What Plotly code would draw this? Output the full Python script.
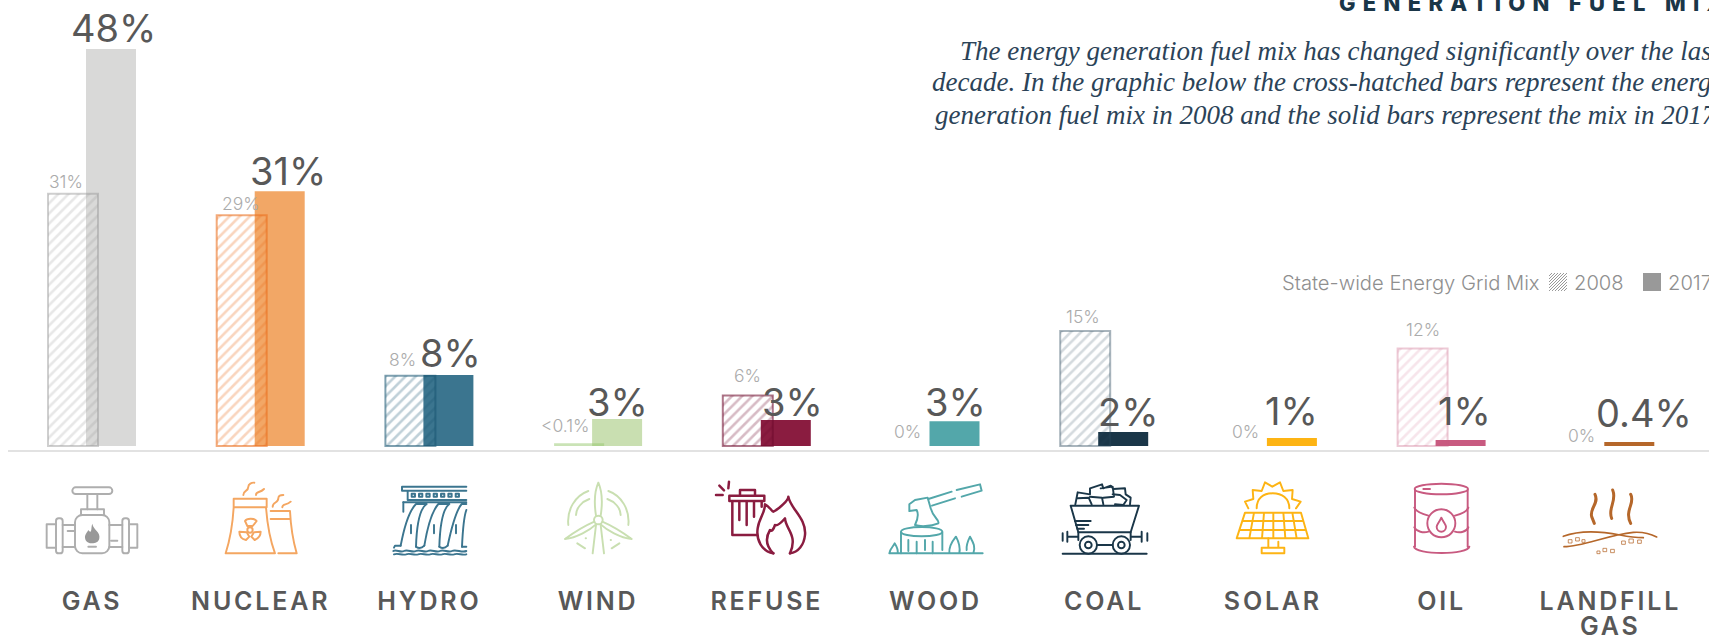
import base64
import plotly.graph_objects as go

categories = ["GAS", "NUCLEAR", "HYDRO", "WIND", "REFUSE", "WOOD", "COAL", "SOLAR", "OIL", "LANDFILL GAS"]
values_2008 = [30.5, 27.9, 8.5, 0.33, 6.1, 0, 13.9, 0, 11.8, 0]
values_2017 = [48.0, 30.8, 8.6, 3.26, 3.14, 3.0, 1.7, 0.97, 0.73, 0.48]
labels_2008 = ["31%", "29%", "8%", "&lt;0.1%", "6%", "0%", "15%", "0%", "12%", "0%"]
labels_2017 = ["48%", "31%", "8%", "3%", "3%", "3%", "2%", "1%", "1%", "0.4%"]
colors_2017 = ["#d9d9d8", "#f2a766", "#3b758f", "#c9dfb1", "#8a1c40", "#53a7aa", "#1a3648", "#fdb414", "#c85a80", "#b5672a"]
colors_2008 = ["rgba(150,150,150,.46)", "rgba(235,110,30,.58)", "rgba(25,85,115,.56)", "rgba(150,200,110,.5)",
               "rgba(110,10,45,.56)", "rgba(0,0,0,0)", "rgba(40,70,90,.4)", "rgba(0,0,0,0)",
               "rgba(200,90,128,.32)", "rgba(0,0,0,0)"]
paragraph_lines = ["The energy generation fuel mix has changed significantly over the last",
                   "decade. In the graphic below the cross-hatched bars represent the energy",
                   "generation fuel mix in 2008 and the solid bars represent the mix in 2017."]
title_text = "GENERATION FUEL MIX"
legend_title = "State-wide Energy Grid Mix"
legend_years = ["2008", "2017"]

# layout constants (pixels)
W, H = 1709, 637
AX_Y = 450
BASE_Y = 446
PX_PER_PCT = 8.27
X0 = 92.0
STEP = 168.7
AX_L = 8
BAR_W = 50 / STEP
# label nudges in pixels, relative to the category centre and the top of the bar
dx_2008 = [-26, -20, -27, -33, -19, -28, -21, -27, -19, -29]
dy_2008 = [12, 12, 16, 18, 20, 15, 15, 15, 19, 11]
dx_2017 = [21, 27, 21, 19, 26, 20, 24, 19, 23, 34]
dy_2017 = [21, 20, 22, 17, 18, 19, 20, 27, 29, 29]

SANS = "Inter"
SERIF = "Liberation Serif"

def py(y):
    return (AX_Y - y) / AX_Y

fig = go.Figure()
fig.add_bar(x=categories, y=values_2017, width=BAR_W, offset=-6 / STEP, marker=dict(color=colors_2017, line_width=0),
            showlegend=False, hoverinfo="skip")
fig.add_bar(x=categories, y=values_2008, width=BAR_W, offset=-44 / STEP,
            marker=dict(color="rgba(0,0,0,0)",
                        line=dict(color=colors_2008, width=[0 if v < 1 else 2 for v in values_2008]),
                        pattern=dict(shape=["/" if v >= 1 else "" for v in values_2008], fgcolor=colors_2008,
                                     bgcolor="rgba(0,0,0,0)", size=7.2, solidity=0.36)),
            showlegend=False, hoverinfo="skip")
# wind 2008 is only a sliver: drawn solid
fig.add_bar(x=[categories[3]], y=[values_2008[3]], width=BAR_W, offset=-44 / STEP,
            marker=dict(color=colors_2008[3], line_width=0), showlegend=False, hoverinfo="skip")

ann = []
for c, v, t, dx, dy in zip(categories, values_2008, labels_2008, dx_2008, dy_2008):
    ann.append(dict(x=c, y=v, xref="x", yref="y", text=t, showarrow=False, xshift=dx, yshift=dy, xanchor="center", yanchor="middle",
                    font=dict(family=SANS, size=17.5, color="#ababab", weight=300)))
for c, v, t, dx, dy in zip(categories, values_2017, labels_2017, dx_2017, dy_2017):
    ann.append(dict(x=c, y=v, xref="x", yref="y", text=t, showarrow=False, xshift=dx, yshift=dy, xanchor="center", yanchor="middle",
                    font=dict(family=SANS, size=38, color="#585858", weight=400)))
for line, xs, ys in zip(paragraph_lines, [958, 930, 933], [51, 82, 115]):
    ann.append(dict(x=xs / W, y=py(ys), xref="paper", yref="paper", text=line, showarrow=False, xanchor="left", yanchor="middle",
                    font=dict(family=SERIF, size=27, color="#2b4358", style="italic")))
ann.append(dict(x=1337 / W, y=py(3), xref="paper", yref="paper", showarrow=False, xanchor="left", yanchor="middle",
                text=f'<span style="letter-spacing:7.3px">{title_text}</span>',
                font=dict(family=SANS, size=22, color="#1a3648", weight=800)))
# second line of the last category label
ann.append(dict(x=categories[-1], y=py(626), xref="x", yref="paper", showarrow=False, xanchor="center", yanchor="middle",
                text='<span style="letter-spacing:2.8px">GAS</span>',
                font=dict(family=SANS, size=25, color="#585858", weight=600)))
# legend
LEG_FONT = dict(family=SANS, size=20.2, color="#8f8f8f", weight=300)
for t, xs in zip([legend_title] + legend_years, [1280, 1572, 1666]):
    ann.append(dict(x=xs / W, y=py(282), xref="paper", yref="paper", text=t, showarrow=False, xanchor="left", yanchor="middle", font=LEG_FONT))
fig.update_layout(annotations=ann)

G, N, HY, WI, RE, WO, CO, SO, OI, LA = colors_2017
def uri(s):
    return "data:image/svg+xml;base64," + base64.b64encode(s.encode()).decode()
def svg(body, color, vx, sw=5.8):
    return uri(f'<svg xmlns="http://www.w3.org/2000/svg" viewBox="{vx} 0 390 270" width="390" height="270">'
               f'<g fill="none" stroke="{color}" stroke-width="{sw}" stroke-linecap="round" stroke-linejoin="round">{body}</g></svg>')

gas = """<rect x="127" y="37" width="120" height="20" rx="10"/><path d="M172 57V103M202 57V103"/><path d="M153 120V103H222V120"/>
<rect x="135" y="120" width="103" height="115" rx="22"/><rect x="78" y="130" width="20" height="105" rx="8"/><rect x="277" y="130" width="20" height="105" rx="8"/>
<path d="M78 148H50V218H78M297 148H322V218H297M98 150H135M98 216H135M238 150H277M238 216H277M113 168H132M243 197H262M175 215H198"/>
<path d="M187 146C190 165 212 170 208 190C206 203 195 205 187 205C178 205 166 202 165 188C164 178 172 172 175 165C178 170 182 172 183 168C185 162 184 152 187 146Z" fill="#999" stroke="none"/>"""
nuclear = """<path d="M611 71H710V97H611ZM611 97C608 150 598 200 587 235H735C722 200 712 150 708 97M722 108H780C782 150 790 200 800 235H745M722 132H780"/>
<path d="M640 60C640 45 655 50 655 35C655 28 665 22 673 23M678 60C678 48 690 55 702 42M728 95C728 80 745 85 745 70C745 63 752 60 760 60M757 97C757 85 770 92 782 80"/>
<circle cx="660" cy="165" r="8"/><path d="M645 138C650 130 672 128 680 138L668 153H652ZM628 170L650 172L658 185L648 195C635 192 628 182 628 170ZM692 170L672 172L664 185L674 195C685 190 692 182 692 170Z"/>"""
hydro = """<path d="M1309 35H1116V47H1309M1133 47V75H1309M1120 82H1309"/>
<path d="M1145 56h10v9h-10zM1167 56h10v9h-10zM1189 56h10v9h-10zM1211 56h10v9h-10zM1233 56h10v9h-10zM1255 56h10v9h-10zM1277 56h10v9h-10z"/>
<path d="M1120 82V110M1190 87H1158C1135 110 1120 170 1112 212M1190 87C1170 100 1160 150 1158 215M1258 87H1225C1205 110 1190 170 1183 212M1258 87C1240 100 1230 150 1228 215M1309 87H1295C1275 110 1262 170 1253 212M1309 105C1300 130 1298 170 1296 215"/>
<path d="M1112 212L1095 212L1092 218M1158 215C1165 220 1175 220 1183 212M1228 215C1235 220 1245 220 1253 212M1296 215H1309M1143 150V175M1212 150V175M1278 150V175"/>
<path d="M1090 228C1100 222 1110 234 1122 228C1134 222 1146 234 1158 228C1170 222 1182 234 1194 228C1206 222 1218 234 1230 228C1242 222 1254 234 1266 228C1278 222 1296 234 1309 228M1092 238C1104 233 1116 242 1128 238C1140 233 1152 242 1164 238C1176 233 1188 242 1200 238C1212 233 1224 242 1236 238C1248 233 1260 242 1272 238C1284 233 1296 242 1309 238"/>"""
wind = """<circle cx="175" cy="135" r="13"/><path d="M175 23C163 50 163 90 168 122M175 23C187 50 187 90 182 122M75 192C105 170 140 150 163 140M75 192C110 188 150 165 168 148M275 192C245 170 210 150 187 140M275 192C240 188 200 165 182 148"/>
<path d="M168 150L158 235M182 150L192 235M145 48C105 62 80 105 85 150M148 72C125 80 108 100 108 120M205 48C245 62 270 105 265 150M202 72C225 80 242 100 242 120M112 205L135 220M238 205L215 220M137 190H138M212 195H213"/>"""
refuse = """<path d="M567 20L565 40M538 32L552 46M528 60H548"/><path d="M568 62H673V78H568ZM600 62V45H645V62M577 78V180H650M665 78V95M598 80V135M620 80V150M642 80V125"/>
<path d="M700 235C665 228 648 195 653 160C657 130 675 115 675 88C690 95 695 110 700 110C720 100 745 75 745 65C750 100 800 130 795 180C792 210 775 232 750 235"/>
<path d="M700 235C680 215 675 190 690 165C695 170 700 165 705 150C715 155 730 135 735 130C735 160 775 180 750 235"/>"""
wood = """<path d="M1165 72L1235 50M1250 45L1320 28L1325 47L1265 65M1176 92L1245 70"/>
<path d="M1125 75L1163 68L1172 100C1180 130 1200 135 1195 145C1170 155 1140 155 1125 150C1135 130 1135 115 1130 105L1108 108L1108 88Z"/>
<ellipse cx="1145" cy="170" rx="62" ry="14"/><path d="M1083 172V235M1207 172V225M1105 195V228M1130 200V235M1155 195V225M1178 200V235"/>
<path d="M1048 235C1050 220 1060 215 1064 205C1072 218 1075 225 1073 235M1228 235C1226 210 1240 195 1248 185C1256 200 1262 215 1258 235M1280 225C1278 210 1285 195 1290 185C1298 200 1308 215 1300 235M1048 235H1328"/>"""
coal = """<path d="M92 92H297L272 172H115Z"/><path d="M105 138H152M108 150H145M112 161H132"/>
<circle cx="145" cy="210" r="26"/><circle cx="145" cy="210" r="10"/><circle cx="244" cy="210" r="26"/><circle cx="244" cy="210" r="10"/>
<path d="M172 210H218M68 236H320M68 175V197M82 170V200M82 185H115M322 175V197M305 170V200M272 185H305M115 172V195M272 172V195"/>
<path d="M106 88L113 52L150 58L150 40L186 28L190 40L212 32L220 42L255 40L257 58L272 68L270 88M113 70L146 68L155 88M150 65L186 68L190 88M182 40L218 35L222 65L190 68M218 58L240 60L260 75L250 90L225 88"/>"""
solar = """<path d="M650 100C650 70 670 55 698 55C726 55 748 70 748 100"/><path d="M625 100L615 80L640 72L638 45L665 48L675 22L697 35L720 22L730 48L758 45L756 72L782 80L768 100"/>
<path d="M615 113H783L805 190H590ZM607 138H790M598 165H798M642 113L628 190M672 113L666 190M700 113V190M730 113L736 190M757 113L770 190"/>
<path d="M685 190V218M715 200V218M665 218H733V235H665Z"/>"""
oil = """<ellipse cx="1204" cy="42" rx="80" ry="16"/><path d="M1125 45V215M1283 45V215M1122 215C1125 240 1285 240 1288 215M1150 42H1170"/>
<path d="M1123 98C1130 112 1150 118 1165 122M1245 122C1260 118 1280 112 1285 98M1123 157C1130 170 1150 175 1165 170M1245 170C1260 175 1280 170 1285 157"/>
<circle cx="1204" cy="145" r="42"/><path d="M1204 128C1197 143 1190 150 1190 155C1190 175 1218 175 1218 155C1218 150 1211 143 1204 128Z"/>"""
landfill = """<path d="M165 58C178 85 148 100 155 125L163 145M218 45C232 78 202 100 215 130M272 58C287 85 252 105 272 145" stroke-width="9"/>
<path d="M70 184C120 165 190 170 240 180C270 186 292 188 310 188M72 215C130 215 200 180 280 172C310 170 335 178 350 186" stroke-width="5"/>
<path d="M86 194h10v10h-10zM108 188h10v10h-10zM127 194h8v8h-8zM172 228h8v8h-8zM190 220h10v10h-10zM213 223h10v10h-10zM246 198h10v10h-10zM268 192h12v12h-12zM294 195h10v10h-10z" stroke-width="2.2"/>"""

icons = [(gas, "#aeaeae", 30), (nuclear, "#f4a661", 30), (hydro, HY, 30), (wind, WI, 540), (refuse, RE, 540), (wood, WO, 540),
         (coal, CO, 1040), (solar, SO, 1040), (oil, OI, 1040), (landfill, LA, 1540)]
images = []
for i, (body, col, zx) in enumerate(icons):
    x0 = X0 + STEP * i - 65
    vx = (x0 - zx) * 3
    images.append(dict(source=svg(body, col, round(vx, 1), sw=7.5 if body is refuse else 5.8), xref="paper", yref="paper",
                       x=x0 / W, y=py(475), sizex=130 / W, sizey=90 / AX_Y, xanchor="left", yanchor="top",
                       sizing="stretch", layer="above"))
# hatched legend key
hatch = "".join(f'<path d="M{a} 18L{a+18} 0"/>' for a in range(-15, 18, 3))
images.append(dict(source=uri(f'<svg xmlns="http://www.w3.org/2000/svg" viewBox="0 0 18 18" width="18" height="18"><g stroke="#999" stroke-width="1" fill="none">{hatch}</g></svg>'),
                   xref="paper", yref="paper", x=1549 / W, y=py(273), sizex=18 / W, sizey=18 / AX_Y, xanchor="left", yanchor="top", sizing="stretch", layer="above"))

shapes = [dict(type="rect", xref="paper", yref="paper", x0=1643 / W, x1=1661 / W, y0=py(273), y1=py(291), fillcolor="#999999", line_width=0)]

tick_first_line = [c.replace(" GAS", "") for c in categories]
fig.update_layout(
    width=W, height=H, barmode="overlay", images=images, shapes=shapes,
    margin=dict(l=0, r=0, t=0, b=H - AX_Y, pad=0, autoexpand=False),
    paper_bgcolor="white", plot_bgcolor="white", showlegend=False,
    xaxis=dict(domain=[AX_L / W, 1], type="category", categoryorder="array", categoryarray=categories,
               range=[(AX_L - X0) / STEP, (W - X0) / STEP], showgrid=False, zeroline=False, showline=True, linecolor="#e2e2e2", linewidth=2,
               ticks="", tickmode="array", tickvals=categories,
               ticktext=[f'<span style="letter-spacing:2.8px">{c}</span>' for c in tick_first_line],
               tickangle=0, ticklabelstandoff=128, tickfont=dict(family=SANS, size=25, color="#585858", weight=600)),
    yaxis=dict(visible=False, range=[(BASE_Y - AX_Y) / PX_PER_PCT, BASE_Y / PX_PER_PCT], fixedrange=True),
)
fig.write_html("out.html", config={"displayModeBar": False}, post_script="document.body.style.margin='0';")
